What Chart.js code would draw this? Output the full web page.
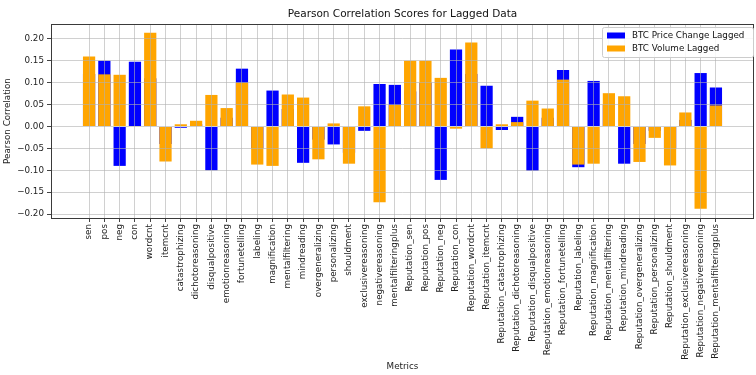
<!DOCTYPE html>
<html>
<head>
<meta charset="utf-8">
<script src="https://cdn.jsdelivr.net/npm/chart.js@4"></script>
<style>
  html, body { margin: 0; padding: 0; background: #ffffff; }
  #wrap { width: 756px; height: 375px; }
</style>
</head>
<body>
<div id="wrap"><canvas id="c" width="756" height="375"></canvas></div>
<script>
const categories = [
  "sen","pos","neg","con","wordcnt","itemcnt","catastrophizing","dichotoreasoning",
  "disqualpositive","emotionreasoning","fortunetelling","labeling","magnification",
  "mentalfiltering","mindreading","overgeneralizing","personalizing","shouldment",
  "exclusivereasoning","negativereasoning","mentalfilteringplus",
  "Reputation_sen","Reputation_pos","Reputation_neg","Reputation_con","Reputation_wordcnt",
  "Reputation_itemcnt","Reputation_catastrophizing","Reputation_dichotoreasoning",
  "Reputation_disqualpositive","Reputation_emotionreasoning","Reputation_fortunetelling",
  "Reputation_labeling","Reputation_magnification","Reputation_mentalfiltering",
  "Reputation_mindreading","Reputation_overgeneralizing","Reputation_personalizing",
  "Reputation_shouldment","Reputation_exclusivereasoning","Reputation_negativereasoning",
  "Reputation_mentalfilteringplus"
];
const btcPriceChangeLagged = [
  0.120, 0.150, -0.090, 0.148, 0.110, -0.040, -0.003, 0.005,
  -0.100, 0.020, 0.132, -0.050, 0.082,
  0.040, -0.083, -0.030, -0.041, -0.060,
  -0.010, 0.097, 0.095,
  0.080, 0.100, -0.122, 0.176, 0.120,
  0.093, -0.008, 0.022,
  -0.101, 0.020, 0.129,
  -0.093, 0.104, 0.050,
  -0.085, -0.040, -0.010,
  -0.050, 0.015, 0.122,
  0.089
];
const btcVolumeLagged = [
  0.160, 0.119, 0.118, -0.001, 0.214, -0.080, 0.005, 0.013,
  0.072, 0.042, 0.100, -0.087, -0.090,
  0.073, 0.066, -0.075, 0.007, -0.085,
  0.046, -0.173, 0.049,
  0.150, 0.150, 0.111, -0.005, 0.192,
  -0.050, 0.005, 0.010,
  0.059, 0.041, 0.107,
  -0.087, -0.085, 0.076,
  0.069, -0.081, -0.026,
  -0.089, 0.032, -0.188,
  0.048
];
const yTickValues = [-0.20, -0.15, -0.10, -0.05, 0.00, 0.05, 0.10, 0.15, 0.20];
const seriesNames = ["BTC Price Change Lagged", "BTC Volume Lagged"];
const seriesColors = ["#0000ff", "#ffa500"];

const FONT = "DejaVu Sans";

const overlayPlugin = {
  id: "overlay",
  afterDraw(chart) {
    const ctx = chart.ctx;
    const a = chart.chartArea;
    ctx.save();
    // spines
    ctx.strokeStyle = "#3a3a3a";
    ctx.lineWidth = 1;
    ctx.strokeRect(Math.round(a.left) + 0.5, Math.round(a.top) + 0.5,
                   Math.round(a.right - a.left) - 1, Math.round(a.bottom - a.top));
    // title
    ctx.fillStyle = "#111";
    ctx.font = "10.5px '" + FONT + "'";
    ctx.textAlign = "center";
    ctx.textBaseline = "middle";
    ctx.fillText("Pearson Correlation Scores for Lagged Data", (a.left + a.right) / 2, 14);
    // legend
    const bx = 602, by = 27, bw = 151, bh = 30;
    ctx.fillStyle = "rgba(255,255,255,0.85)";
    ctx.strokeStyle = "#cccccc";
    ctx.lineWidth = 1;
    ctx.beginPath();
    if (ctx.roundRect) { ctx.roundRect(bx + 0.5, by + 0.5, bw, bh, 2); } else { ctx.rect(bx + 0.5, by + 0.5, bw, bh); }
    ctx.fill();
    ctx.stroke();
    ctx.font = "8.75px '" + FONT + "'";
    ctx.textAlign = "left";
    for (let i = 0; i < seriesNames.length; i++) {
      const yc = by + 8.5 + i * 13;
      ctx.fillStyle = seriesColors[i];
      ctx.fillRect(607, yc - 3, 18, 6);
      ctx.fillStyle = "#111";
      ctx.fillText(seriesNames[i], 632, yc + 0.5);
    }
    ctx.restore();
  }
};

new Chart(document.getElementById("c"), {
  type: "bar",
  data: {
    datasets: [
      {
        label: seriesNames[0],
        data: btcPriceChangeLagged.map((v, i) => ({ x: i, y: v })),
        backgroundColor: seriesColors[0],
        borderWidth: 0,
        order: 2
      },
      {
        label: seriesNames[1],
        data: btcVolumeLagged.map((v, i) => ({ x: i, y: v })),
        backgroundColor: seriesColors[1],
        borderWidth: 0,
        order: 1
      }
    ]
  },
  options: {
    responsive: false,
    animation: false,
    devicePixelRatio: 1,
    datasets: { bar: { grouped: false, barPercentage: 0.8, categoryPercentage: 1.0 } },
    layout: { padding: { top: 24, right: 2, left: 0, bottom: 0 } },
    plugins: {
      legend: { display: false },
      title: { display: false },
      tooltip: { enabled: false }
    },
    scales: {
      x: {
        type: "linear",
        offset: false,
        min: -2.49,
        max: 43.49,
        afterBuildTicks(scale) { scale.ticks = categories.map((_, i) => ({ value: i })); },
        afterFit(scale) { scale.height = 157; },
        ticks: {
          autoSkip: false,
          minRotation: 90,
          maxRotation: 90,
          padding: 2,
          color: "#222",
          font: { family: FONT, size: 8.75 },
          callback: (v) => categories[v]
        },
        grid: { z: 1, offset: false, color: "rgba(176,176,176,0.6)", lineWidth: 1, tickLength: 4, tickColor: "#444", drawTicks: true },
        border: { display: false },
        title: { display: true, text: "Metrics", color: "#222", font: { family: FONT, size: 8.75 }, padding: { top: 0, bottom: 3 } }
      },
      y: {
        type: "linear",
        min: -0.209,
        max: 0.234,
        afterBuildTicks(scale) { scale.ticks = yTickValues.map(v => ({ value: v })); },
        afterFit(scale) { scale.width = 51; },
        ticks: {
          padding: 3,
          color: "#222",
          font: { family: FONT, size: 8.75 },
          callback: (v) => (v < 0 ? "\u2212" + Math.abs(v).toFixed(2) : v.toFixed(2))
        },
        grid: { z: 1, offset: false, color: "rgba(176,176,176,0.6)", lineWidth: 1, tickLength: 4, tickColor: "#444", drawTicks: true },
        border: { display: false },
        title: { display: true, text: "Pearson Correlation", color: "#222", font: { family: FONT, size: 8.75 }, padding: { top: 2, bottom: 0 } }
      }
    }
  },
  plugins: [overlayPlugin]
});
</script>
</body>
</html>
